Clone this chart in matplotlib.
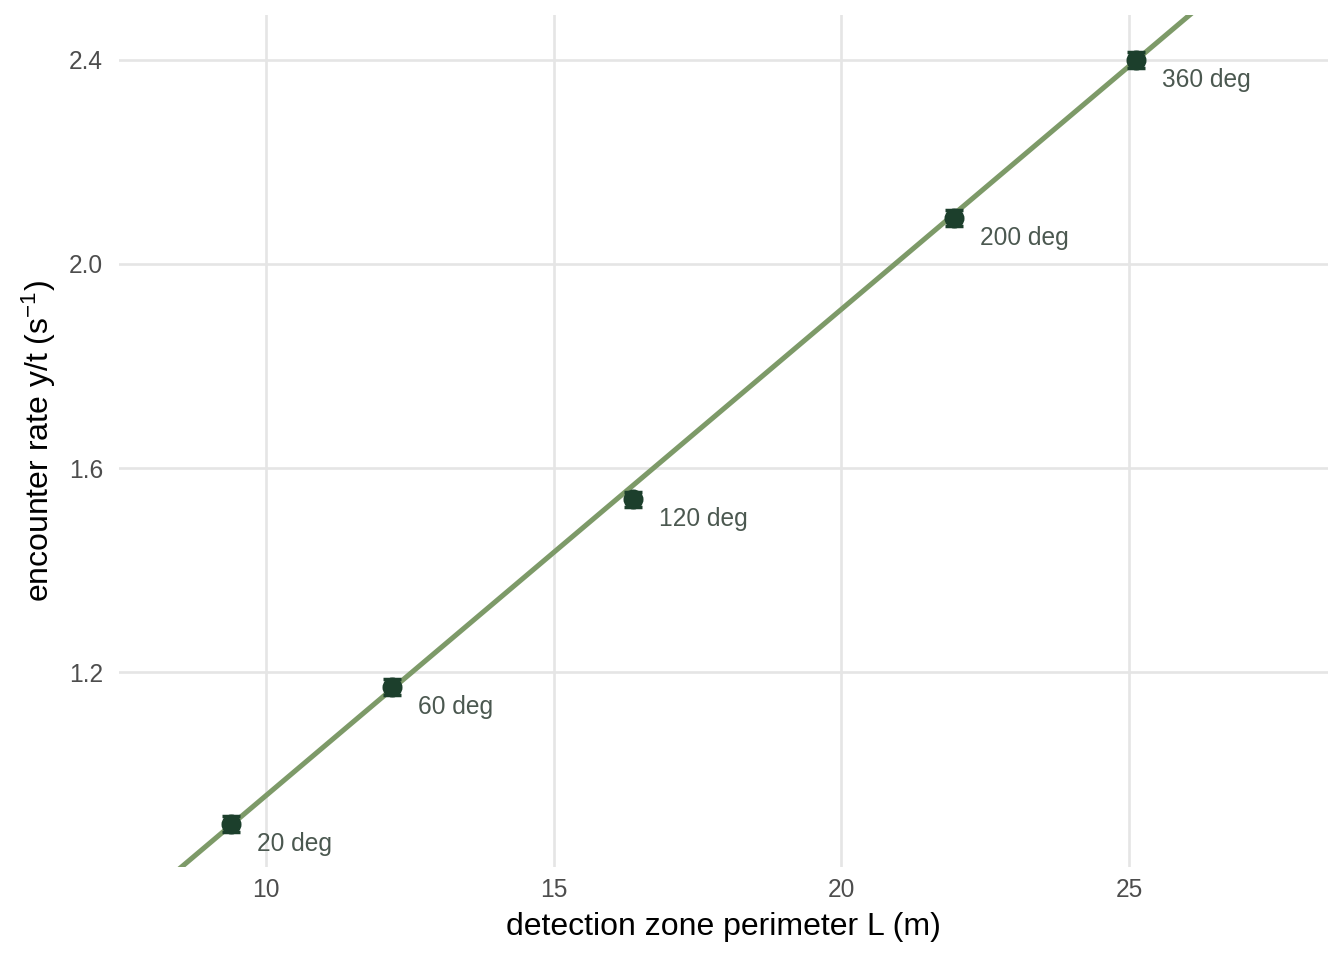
import numpy as np
import matplotlib
matplotlib.use('Agg')
from matplotlib import pyplot as plt

plt.rcParams['font.family'] = ['Liberation Sans', 'DejaVu Sans']
plt.rcParams['mathtext.default'] = 'regular'

# data
angles = ['20 deg', '60 deg', '120 deg', '200 deg', '360 deg']
perimeter = [9.40, 12.19, 16.38, 21.96, 25.13]
rate = [0.902, 1.171, 1.539, 2.090, 2.400]
rate_err = [0.015, 0.015, 0.015, 0.015, 0.015]
fit_slope = 0.0953
fit_intercept = 0.005

line_col = '#7d9a68'
pt_col = '#1c3f2c'
lab_col = '#4b5850'
grid_col = '#e5e5e5'

fig = plt.figure(figsize=(7, 5), dpi=192)
# panel from x=119..1328 px, y=15..867 px
ax = fig.add_axes([119/1344, 1 - 867/960, (1328 - 119)/1344, (867 - 15)/960])

xlim = (7.445, 28.46)
ylim = (0.818, 2.488)
xx = np.array(xlim)
ax.plot(xx, fit_intercept + fit_slope * xx, color=line_col, lw=1.9, zorder=2)

ax.errorbar(perimeter, rate, yerr=rate_err, fmt='o', color=pt_col, ms=6.5,
            ecolor=pt_col, elinewidth=1.2, capsize=3.2, capthick=1.3, zorder=3)

for x, y, lab in zip(perimeter, rate, angles):
    ax.annotate(lab, (x, y), xytext=(9.7, -7.6), textcoords='offset points',
                ha='left', va='center', fontsize=9.2, color=lab_col)

ax.set_xlim(*xlim)
ax.set_ylim(*ylim)
ax.set_xticks([10, 15, 20, 25])
ax.set_yticks([1.2, 1.6, 2.0, 2.4])
ax.set_yticklabels(['1.2', '1.6', '2.0', '2.4'])
ax.grid(True, color=grid_col, lw=1.0)
ax.set_axisbelow(True)
for s in ax.spines.values():
    s.set_visible(False)
ax.tick_params(length=0, labelsize=9.2, labelcolor='#4d4d4d')
ax.tick_params(axis='y', pad=6)
ax.tick_params(axis='x', pad=4)
ax.set_xlabel('detection zone perimeter L (m)', fontsize=12, labelpad=4)
ax.set_ylabel('encounter rate y/t (s$^{\u2212 1}$)', fontsize=12, labelpad=4)

plt.savefig('out.png', dpi=192)
